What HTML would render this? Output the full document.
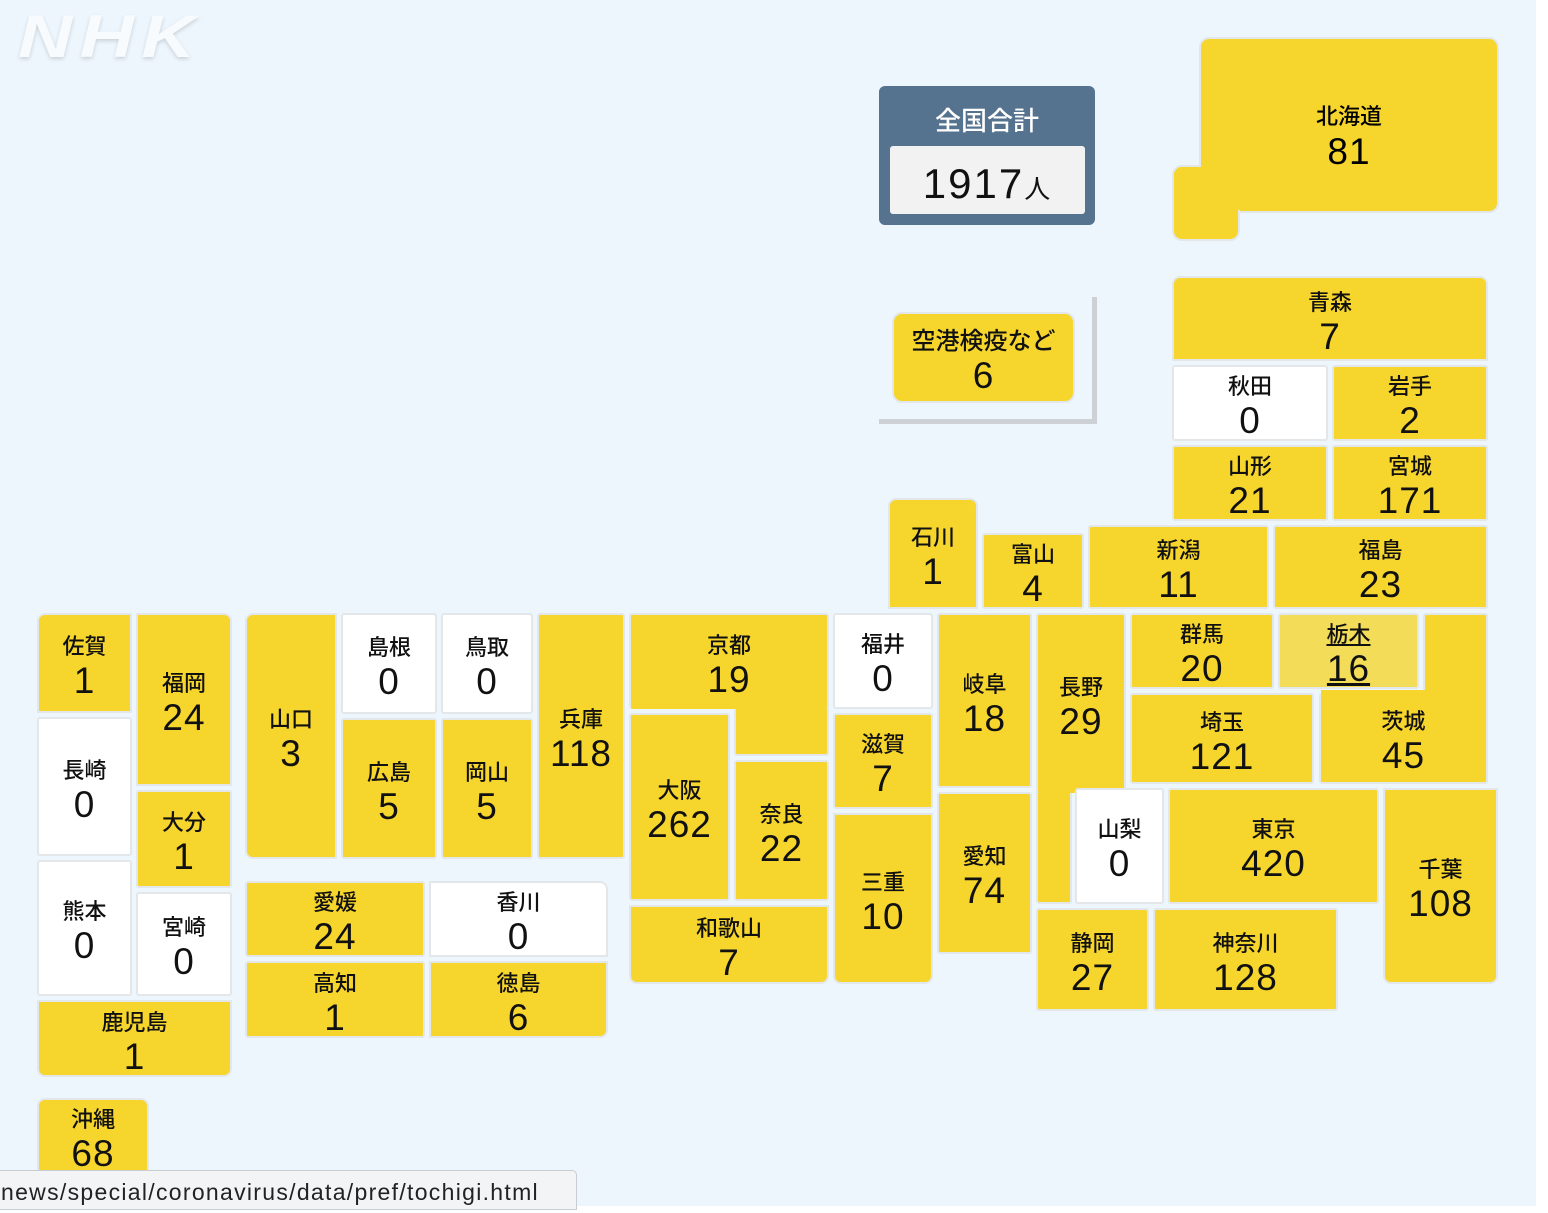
<!DOCTYPE html>
<html><head><meta charset="utf-8"><style>
body{margin:0;width:1548px;height:1206px;overflow:hidden;background:#ffffff;font-family:"Liberation Sans","Noto Sans CJK JP",sans-serif;}
#bg{position:absolute;left:0;top:0;width:1536px;height:1206px;background:#edf6fd;}
.c{position:absolute;box-sizing:border-box;background:#f6d52d;border:2px solid #e3e7ea;border-radius:3px;display:flex;flex-direction:column;align-items:center;justify-content:center;color:#111;padding-top:9px;}
.w{background:#fff;}
.c b{font-weight:500;font-size:22px;line-height:22px;font-family:"Liberation Sans","Noto Sans CJK JP",sans-serif;}
.c i{font-style:normal;font-size:37px;line-height:36px;margin-top:5px;letter-spacing:1px;}
.p{position:absolute;background:#f6d52d;border-radius:10px;}
</style></head><body>
<div id="bg"></div>
<div style="position:absolute;left:18px;top:2px;font:italic 900 60px 'Liberation Sans',sans-serif;color:#f8fbfe;letter-spacing:6px;transform:scaleX(1.25);transform-origin:left top;text-shadow:0 2px 4px rgba(0,0,0,0.15);">NHK</div>

<!-- total -->
<div style="position:absolute;left:879px;top:86px;width:216px;height:139px;background:#55738f;border-radius:6px;"></div>
<div style="position:absolute;left:879px;top:101px;width:216px;text-align:center;color:#fff;font:500 26px 'Liberation Sans','Noto Sans CJK JP',sans-serif;">全国合計</div>
<div style="position:absolute;left:890px;top:146px;width:195px;height:68px;background:#f2f2f2;border-radius:3px;text-align:center;line-height:76px;font-size:42px;color:#111;letter-spacing:2px;">1917<span style="font-size:26px;font-family:'Noto Sans CJK JP',sans-serif;">人</span></div>

<!-- airport -->
<div style="position:absolute;left:1092px;top:297px;width:5px;height:127px;background:#cdd1d5;"></div>
<div style="position:absolute;left:879px;top:419px;width:218px;height:5px;background:#cdd1d5;"></div>
<div class="c" style="left:892px;top:312px;width:183px;height:91px;border-radius:10px;"><b style="font-size:24px">空港検疫など</b><i>6</i></div>

<!-- Hokkaido -->
<div class="p" style="left:1199px;top:37px;width:300px;height:176px;border:2px solid #e3e7ea;box-sizing:border-box;"></div>
<div class="p" style="left:1172px;top:165px;width:68px;height:76px;border:2px solid #e3e7ea;box-sizing:border-box;"></div>
<div class="p" style="left:1174px;top:167px;width:64px;height:43px;border-radius:8px 0 0 0;"></div>
<div class="p" style="left:1201px;top:60px;width:60px;height:150px;border-radius:0;"></div>
<div style="position:absolute;left:1200px;top:99px;width:298px;text-align:center;"><div style="font:500 22px 'Liberation Sans','Noto Sans CJK JP',sans-serif;">北海道</div><div style="font-size:37px;line-height:36px;margin-top:3px;letter-spacing:1px;">81</div></div>

<div class="c" style="left:1172px;top:276px;width:316px;height:85px;border-radius:8px 8px 0 0;"><b>青森</b><i>7</i></div>
<div class="c w" style="left:1172px;top:365px;width:156px;height:76px;"><b>秋田</b><i>0</i></div>
<div class="c" style="left:1332px;top:365px;width:156px;height:76px;"><b>岩手</b><i>2</i></div>
<div class="c" style="left:1172px;top:445px;width:156px;height:76px;"><b>山形</b><i>21</i></div>
<div class="c" style="left:1332px;top:445px;width:156px;height:76px;"><b>宮城</b><i>171</i></div>

<div class="c" style="left:888px;top:498px;width:90px;height:111px;border-radius:8px 8px 0 0;"><b>石川</b><i>1</i></div>
<div class="c" style="left:982px;top:533px;width:102px;height:76px;"><b>富山</b><i>4</i></div>
<div class="c" style="left:1088px;top:525px;width:181px;height:84px;"><b>新潟</b><i>11</i></div>
<div class="c" style="left:1273px;top:525px;width:215px;height:84px;"><b>福島</b><i>23</i></div>

<div class="c" style="left:1130px;top:613px;width:144px;height:76px;"><b>群馬</b><i>20</i></div>
<div class="c" style="left:1278px;top:613px;width:141px;height:76px;background:#f2dc58;"><b style="text-decoration:underline">栃木</b><i style="text-decoration:underline">16</i></div>
<div class="c" style="left:1130px;top:693px;width:184px;height:91px;"><b>埼玉</b><i>121</i></div>
<div class="c" style="left:1319px;top:693px;width:169px;height:91px;border-top:none;"><b>茨城</b><i>45</i></div>
<div class="c" style="left:1423px;top:613px;width:65px;height:84px;border-bottom:none;"></div>
<div style="position:absolute;left:1321px;top:690px;width:165px;height:8px;background:#f6d52d;"></div>

<div class="c" style="left:1036px;top:908px;width:113px;height:103px;"><b>静岡</b><i>27</i></div>
<div class="c" style="left:1036px;top:785px;width:36px;height:119px;"></div>
<div class="c" style="left:1036px;top:613px;width:90px;height:180px;border-bottom:none;"><b>長野</b><i>29</i></div>
<div class="c" style="left:937px;top:613px;width:95px;height:175px;"><b>岐阜</b><i>18</i></div>
<div class="c" style="left:937px;top:792px;width:95px;height:162px;"><b>愛知</b><i>74</i></div>
<div class="c w" style="left:1075px;top:788px;width:89px;height:116px;"><b>山梨</b><i>0</i></div>
<div class="c" style="left:1168px;top:788px;width:211px;height:116px;"><b>東京</b><i>420</i></div>
<div class="c" style="left:1383px;top:788px;width:115px;height:196px;border-radius:0 0 8px 8px;"><b>千葉</b><i>108</i></div>
<div class="c" style="left:1153px;top:908px;width:185px;height:103px;"><b>神奈川</b><i>128</i></div>

<div class="c w" style="left:833px;top:613px;width:100px;height:96px;"><b>福井</b><i>0</i></div>
<div class="c" style="left:833px;top:713px;width:100px;height:96px;"><b>滋賀</b><i>7</i></div>
<div class="c" style="left:833px;top:813px;width:100px;height:171px;border-radius:0 0 8px 8px;"><b>三重</b><i>10</i></div>
<div class="c" style="left:734px;top:700px;width:95px;height:56px;border-top:none;"></div>
<div class="c" style="left:629px;top:613px;width:200px;height:96px;border-bottom:none;"><b>京都</b><i>19</i></div>
<div class="c" style="left:629px;top:713px;width:101px;height:188px;"><b>大阪</b><i>262</i></div>
<div class="c" style="left:734px;top:760px;width:95px;height:141px;"><b>奈良</b><i>22</i></div>
<div class="c" style="left:629px;top:905px;width:200px;height:79px;border-radius:0 0 8px 8px;"><b>和歌山</b><i>7</i></div>

<div class="c" style="left:537px;top:613px;width:88px;height:246px;"><b>兵庫</b><i>118</i></div>
<div class="c w" style="left:441px;top:613px;width:92px;height:101px;"><b>鳥取</b><i>0</i></div>
<div class="c w" style="left:341px;top:613px;width:96px;height:101px;"><b>島根</b><i>0</i></div>
<div class="c" style="left:441px;top:718px;width:92px;height:141px;"><b>岡山</b><i>5</i></div>
<div class="c" style="left:341px;top:718px;width:96px;height:141px;"><b>広島</b><i>5</i></div>
<div class="c" style="left:245px;top:613px;width:92px;height:246px;border-radius:8px 0 0 8px;"><b>山口</b><i>3</i></div>

<div class="c" style="left:245px;top:881px;width:180px;height:76px;"><b>愛媛</b><i>24</i></div>
<div class="c w" style="left:429px;top:881px;width:179px;height:76px;border-radius:0 8px 0 0;"><b>香川</b><i>0</i></div>
<div class="c" style="left:245px;top:961px;width:180px;height:77px;"><b>高知</b><i>1</i></div>
<div class="c" style="left:429px;top:961px;width:179px;height:77px;border-radius:0 0 8px 0;"><b>徳島</b><i>6</i></div>

<div class="c" style="left:37px;top:613px;width:95px;height:100px;border-radius:8px 0 0 0;"><b>佐賀</b><i>1</i></div>
<div class="c" style="left:136px;top:613px;width:96px;height:173px;border-radius:0 8px 0 0;"><b>福岡</b><i>24</i></div>
<div class="c w" style="left:37px;top:717px;width:95px;height:139px;"><b>長崎</b><i>0</i></div>
<div class="c" style="left:136px;top:790px;width:96px;height:98px;"><b>大分</b><i>1</i></div>
<div class="c w" style="left:37px;top:860px;width:95px;height:136px;"><b>熊本</b><i>0</i></div>
<div class="c w" style="left:136px;top:892px;width:96px;height:104px;"><b>宮崎</b><i>0</i></div>
<div class="c" style="left:37px;top:1000px;width:195px;height:77px;border-radius:0 0 8px 8px;"><b>鹿児島</b><i>1</i></div>
<div class="c" style="left:37px;top:1098px;width:112px;height:76px;border-radius:8px 8px 0 0;"><b>沖縄</b><i>68</i></div>

<div style="position:absolute;left:-4px;top:1170px;width:581px;height:40px;box-sizing:border-box;background:#f3f4f6;border:1px solid #c9ccd0;border-radius:0 5px 0 0;font-size:23px;line-height:42px;color:#222;padding-left:4px;letter-spacing:1.3px;">news/special/coronavirus/data/pref/tochigi.html</div>
</body></html>
